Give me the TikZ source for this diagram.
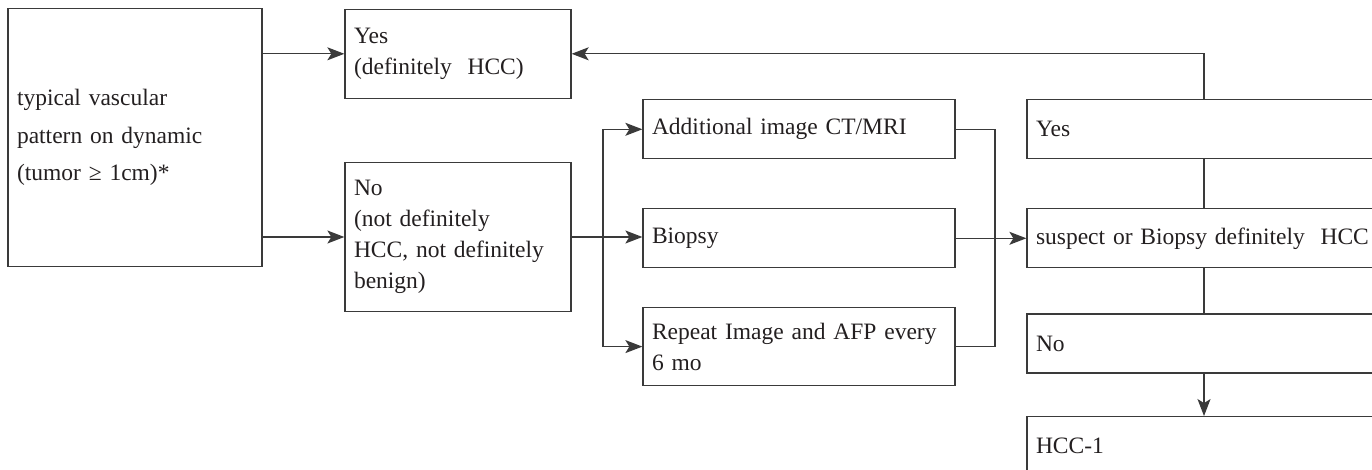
\documentclass[tikz,border=0pt]{standalone}
\usepackage{fontspec}
\setmainfont{Liberation Serif}
\usepackage{tikz}
\usetikzlibrary{arrows.meta,positioning}

\definecolor{ink}{HTML}{231F20}
\definecolor{rule}{HTML}{3A3A3A}

\tikzstyle{edge}=[
	-,
	draw=rule,
	line width=1.3pt
]
\tikzstyle{arr}=[
	edge,
	-{Stealth[length=17pt,width=13pt,inset=4pt]}
]
\tikzstyle{box}=[
	rectangle,
	draw=rule,
	line width=1.3pt,
	text=ink,
	align=left,
	inner xsep=9pt,
	inner ysep=0pt
]
\tikzstyle{midbox}=[
	box,
	text width=294pt,
	minimum height=59pt
]
\tikzstyle{rbox}=[
	box,
	text width=336pt,
	minimum height=59pt
]

\begin{document}
\begin{tikzpicture}[x=1pt,y=-1pt,font=\fontsize{23.5}{31}\selectfont]
\clip (0,0) rectangle (1372,470);

% left part
\node[box, text width=236pt, minimum height=258pt, font=\fontsize{23.5}{37.5}\selectfont] (typ) at (135,137.5)
    {typical vascular\\pattern on dynamic\\(tumor ≥ 1cm)*};
\node[box, text width=208pt, minimum height=89pt] (yes) at (458,53.8) {Yes\\(definitely\ \ HCC)};
\node[box, text width=208pt, minimum height=149pt] (no) at (458,237)
    {No\\(not definitely\\HCC, not definitely\\benign)};

% middle column
\node[midbox] (addimg) at (799,129.3) {Additional image CT/MRI};
\node[midbox, below=48.7pt of addimg] (biopsy) {Biopsy};
\node[midbox, minimum height=78pt, below=38.5pt of biopsy] (rep) {Repeat Image and AFP every\\6 mo};

% right column
\node[rbox] (yes2) at (1204,129.3) {Yes};
\node[rbox, below=48.7pt of yes2] (susp) {\mbox{suspect or Biopsy definitely\ \ HCC}};
\node[rbox, below=45pt of susp] (no2) {No};
\node[rbox, below=42.3pt of no2] (hcc) {HCC-1};

\coordinate (fork) at (603,237);
\coordinate (join) at (995,237);

\draw[arr] (typ.east |- yes.west) to (yes.west);
\draw[arr] (typ.east |- no.west) to (no.west);

\draw[edge] (no.east) to (no.east -| fork);
\draw[arr] (no.east -| fork) to (no.east -| biopsy.west);
\draw[arr] (fork) |- (addimg.west);
\draw[arr] (fork) |- (rep.west);

\draw[edge] (addimg.east) -| (join) |- (rep.east);
\draw[arr] (biopsy.east) to (biopsy.east -| susp.west);

\draw[arr] (yes2.north) |- (yes.east);
\draw[edge] (yes2) to (susp);
\draw[edge] (susp) to (no2);
\draw[arr] (no2) to (hcc);

\end{tikzpicture}
\end{document}
